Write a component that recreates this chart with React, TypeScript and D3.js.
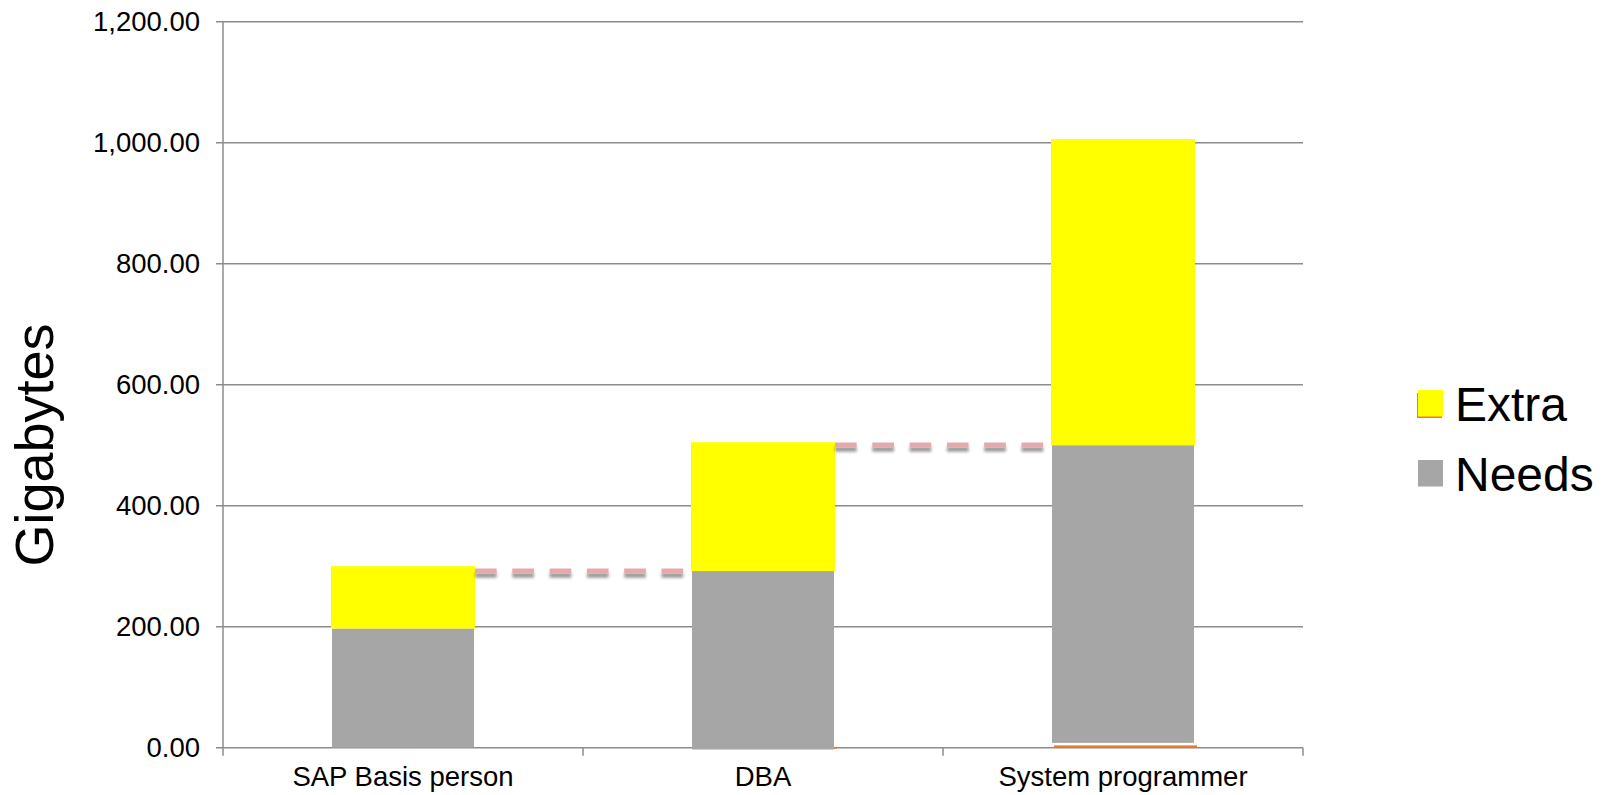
import React from "react";
import * as d3 from "d3";

const categories = ["SAP Basis person", "DBA", "System programmer"];
const needs = [197, 295, 492];
const needsBase = [0, -3, 8];
const extra = [103, 213, 506];
const other = [0, 0.6, 3];
const yTicks = [0, 200, 400, 600, 800, 1000, 1200];
const legendItems = [
  { label: "Extra", color: "#FFFF00" },
  { label: "Needs", color: "#A6A6A6" },
];

const W = 1606;
const H = 795;
const M = { left: 223, right: 1303, top: 21.7, bottom: 747.7 };
const FONT = "'Liberation Sans', Arial, Helvetica, sans-serif";

export default function App() {
  const x = d3.scaleBand<string>().domain(categories).range([M.left, M.right]).paddingInner(0.6).paddingOuter(0.3);
  const y = d3.scaleLinear().domain([0, 1200]).range([M.bottom, M.top]);
  const bw = x.bandwidth();

  const bars = categories.map((c, i) => {
    const x0 = x(c)!;
    const b = needsBase[i];
    const nTop = b + needs[i];
    const eTop = nTop + extra[i];
    return { c, i, x0, b, nTop, eTop };
  });

  const connectors = bars.slice(0, -1).map((d, i) => {
    const next = bars[i + 1];
    return { x1: d.x0 + bw, x2: next.x0 - 3, yv: next.nTop };
  });

  return (
    <svg width={W} height={H} style={{ position: "absolute", left: 0, top: 0, background: "#fff" }} fontFamily={FONT}>
      <defs>
        <filter id="shadow" filterUnits="userSpaceOnUse" x={0} y={0} width={W} height={H}>
          <feGaussianBlur in="SourceAlpha" stdDeviation="1.8" />
          <feOffset dx="0" dy="4" result="ob" />
          <feComponentTransfer><feFuncA type="linear" slope="0.4" /></feComponentTransfer>
          <feMerge>
            <feMergeNode />
            <feMergeNode in="SourceGraphic" />
          </feMerge>
        </filter>
      </defs>
      {/* gridlines */}
      {yTicks.map((t) => (
        <g key={t}>
          <line x1={M.left - 7} x2={M.right} y1={y(t)} y2={y(t)} stroke="#8C8C8C" strokeWidth={1.5} />
          <text x={200} y={y(t)} dy="0.35em" textAnchor="end" fontSize={27.5} fill="#000">
            {d3.format(",.2f")(t)}
          </text>
        </g>
      ))}
      {/* y axis */}
      <line x1={M.left} x2={M.left} y1={M.top} y2={M.bottom + 8} stroke="#8C8C8C" strokeWidth={1.5} />
      {/* x ticks */}
      {categories.map((c) => {
        const xe = x(c)! + bw + (x.step() * x.paddingInner()) / 2;
        return <line key={c} x1={xe} x2={xe} y1={M.bottom} y2={M.bottom + 8} stroke="#8C8C8C" strokeWidth={1.5} />;
      })}
      {/* bars */}
      {bars.map((d) => (
        <g key={d.c}>
          {other[d.i] > 0 && (
            <rect x={d.x0 + 3} y={y(other[d.i]) - 0.5} width={bw - 1} height={Math.max(2, y(0) - y(other[d.i]))} fill="#F07A2A" />
          )}
          <rect x={d.x0 + 1} y={y(d.nTop)} width={bw - 2} height={y(d.b) - y(d.nTop)} fill="#A6A6A6" />
          <rect x={d.x0} y={y(d.eTop)} width={bw} height={y(d.nTop) - y(d.eTop)} fill="#FFFF00" />
        </g>
      ))}
      {/* connectors */}
      <g filter="url(#shadow)">
        {connectors.map((l, i) => (
          <line key={i} x1={l.x1} x2={l.x2} y1={y(l.yv)} y2={y(l.yv)} stroke="#E3A9AB" strokeWidth={5.3}
            strokeDasharray="21.7 15.6" />
        ))}
      </g>
      {/* category labels */}
      {categories.map((c) => (
        <text key={c} x={x(c)! + bw / 2} y={786} textAnchor="middle" fontSize={27.5} fill="#000">
          {c}
        </text>
      ))}
      {/* y title */}
      <text transform="translate(53,445) rotate(-90)" textAnchor="middle" fontSize={54} fill="#000">
        Gigabytes
      </text>
      {/* legend */}
      <rect x={1417} y={393} width={25} height={25} fill="#F07A2A" />
      {legendItems.map((it, i) => (
        <g key={it.label} transform={`translate(0, ${i * 70})`}>
          <rect x={1418} y={390} width={25} height={26.5} fill={it.color} />
          <text x={1455} y={421} fontSize={48} fill="#000">
            {it.label}
          </text>
        </g>
      ))}
    </svg>
  );
}
